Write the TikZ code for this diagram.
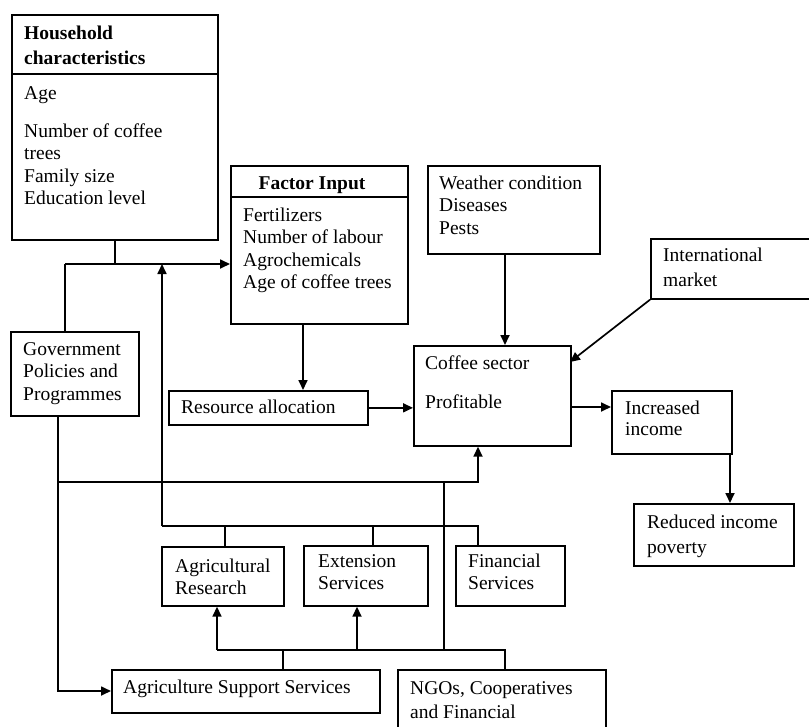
\documentclass[tikz,border=0pt]{standalone}
\usepackage{fontspec}
\setmainfont{Liberation Serif}
\usetikzlibrary{arrows.meta}
\begin{document}
\begin{tikzpicture}[x=1pt,y=-1pt,
  box/.style={draw,line width=1.7pt,anchor=north west,inner sep=0pt},
  txt/.style={anchor=base west,align=left,inner sep=0pt,font=\fontsize{19.5}{22.5}\selectfont},
  conn/.style={line width=1.7pt},
  arr/.style={line width=1.7pt,-{Triangle[length=10pt,width=9pt]}}]
\fill[white] (0,0) rectangle (809,726);
\useasboundingbox (0,0) rectangle (809,726);
% boxes
\node[box,minimum width=206pt,minimum height=225pt] (hh) at (11,14) {};
\node[box,minimum width=177pt,minimum height=158pt] (fi) at (230,165) {};
\node[box,minimum width=172pt,minimum height=88pt] (wc) at (427,165) {};
\node[box,minimum width=165pt,minimum height=60pt] (im) at (650,238) {};
\node[box,minimum width=157pt,minimum height=100pt] (cs) at (413,345) {};
\node[box,minimum width=199pt,minimum height=34pt] (ra) at (168,390) {};
\node[box,minimum width=120pt,minimum height=63pt] (ii) at (611,390) {};
\node[box,minimum width=160pt,minimum height=62pt] (rp) at (633,503) {};
\node[box,minimum width=128pt,minimum height=84pt] (gv) at (10,331) {};
\node[box,minimum width=122pt,minimum height=59pt] (ar) at (161,546) {};
\node[box,minimum width=124pt,minimum height=60pt] (es) at (303,545) {};
\node[box,minimum width=109pt,minimum height=60pt] (fs) at (455,545) {};
\node[box,minimum width=268pt,minimum height=43pt] (as) at (111,669) {};
\node[box,minimum width=208pt,minimum height=70pt] (ng) at (397,669) {};
% dividers
\draw[conn] (hh.west |- 0,74) -- (hh.east |- 0,74);
\draw[conn] (fi.west |- 0,197) -- (fi.east |- 0,197);
% texts (anchor at baseline of the last line)
\node[txt] (hht) at (24,64) {\textbf{Household}\\[2.5pt]\textbf{characteristics}};
\node[txt] (hhi) at (24,204.5) {Age\\[15.5pt]Number of coffee\\trees\\Family size\\Education level};
\node[txt,anchor=base] (fit) at (312,189) {\textbf{Factor Input}};
\node[txt] (fii) at (243,288.5) {Fertilizers\\Number of labour\\Agrochemicals\\Age of coffee trees};
\node[txt] (wct) at (439,234) {Weather condition\\Diseases\\Pests};
\node[txt] (imt) at (663,286) {International\\[2.5pt]market};
\node[txt] (cst) at (425,408) {Coffee sector\\[16.5pt]Profitable};
\node[txt] (rat) at (181,413) {Resource allocation};
\node[txt] (iit) at (625,435.5) {Increased\\[-1pt]income};
\node[txt] (rpt) at (647,553) {Reduced income\\[2.5pt]poverty};
\node[txt] (gvt) at (23,400) {Government\\Policies and\\Programmes};
\node[txt] (art) at (175,594.5) {Agricultural\\Research};
\node[txt] (est) at (318,589.5) {Extension\\Services};
\node[txt] (fst) at (468,589.5) {Financial\\Services};
\node[txt] (ast) at (123,693) {Agriculture Support Services};
\node[txt] (ngt) at (410,718) {NGOs, Cooperatives\\[1.5pt]and Financial};
% junction coordinates
\coordinate (g1) at (65,264);
\coordinate (t1) at (162,526);
\coordinate (t2) at (478,526);
\coordinate (d1) at (225,526);
\coordinate (d2) at (373,526);
\coordinate (g2) at (58,482);
\coordinate (g3) at (58,691);
\coordinate (c1) at (478,482);
\coordinate (b1) at (217,650);
\coordinate (b2) at (505,650);
\coordinate (b3) at (444,650);
\coordinate (b5) at (283,650);
\coordinate (b6) at (357,650);
\coordinate (f1) at (303,0);
\coordinate (w1) at (505,0);
\coordinate (ce) at (570,362);
\coordinate (r1) at (0,407);
\coordinate (r2) at (730,0);
% connectors
\draw[conn] (hh.south) -- (hh.south |- g1);
\draw[arr] (g1) -- (fi.west |- g1);
\draw[conn] (g1) -- (g1 |- gv.north);
\draw[arr] (t1) -- (t1 |- g1);
\draw[conn] (t1) -- (t2) -- (t2 |- fs.north);
\draw[conn] (d1) -- (d1 |- ar.north);
\draw[conn] (d2) -- (d2 |- es.north);
\draw[arr] (gv.south -| g2) -- (g3) -- (as.west |- g3);
\draw[arr] (g2) -- (c1) -- (c1 |- cs.south);
\draw[conn] (b3) -- (b3 |- c1);
\draw[conn] (b1) -- (b2) -- (b2 |- ng.north);
\draw[conn] (b5) -- (b5 |- as.north);
\draw[arr] (b1) -- (b1 |- ar.south);
\draw[arr] (b6) -- (b6 |- es.south);
\draw[arr] (fi.south -| f1) -- (ra.north -| f1);
\draw[arr] (ra.east) -- (cs.west |- ra.east);
\draw[arr] (wc.south -| w1) -- (cs.north -| w1);
\draw[arr] (im.south west) -- (ce);
\draw[arr] (cs.east |- r1) -- (ii.west |- r1);
\draw[arr] (ii.south -| r2) -- (rp.north -| r2);
\end{tikzpicture}
\end{document}
